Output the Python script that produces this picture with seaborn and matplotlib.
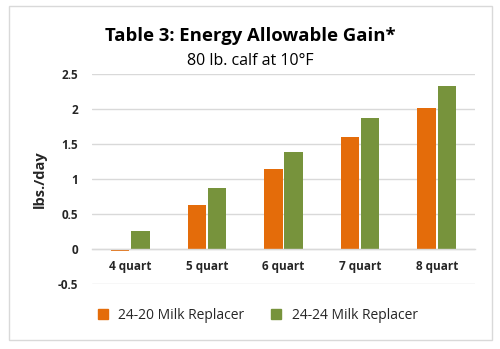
import matplotlib
matplotlib.use("Agg")
import matplotlib.pyplot as plt
import seaborn as sns
import pandas as pd
from matplotlib.patches import Rectangle
from matplotlib.lines import Line2D

categories = ["4 quart", "5 quart", "6 quart", "7 quart", "8 quart"]
series_names = ["24-20 Milk Replacer", "24-24 Milk Replacer"]
milk_24_20 = [-0.03, 0.63, 1.14, 1.60, 2.02]
milk_24_24 = [0.26, 0.87, 1.39, 1.87, 2.33]
y_ticks = [-0.5, 0, 0.5, 1, 1.5, 2, 2.5]
y_tick_labels = ["-0.5", "0", "0.5", "1", "1.5", "2", "2.5"]

colors = ["#E46C0A", "#77933C"]

df = pd.DataFrame({
    "category": categories * 2,
    "value": milk_24_20 + milk_24_24,
    "series": [series_names[0]] * len(categories) + [series_names[1]] * len(categories),
})

sns.set_style("white")
plt.rcParams["font.family"] = ["Open Sans", "DejaVu Sans"]

fig = plt.figure(figsize=(5.0, 3.49), dpi=100)
ax = fig.add_axes([0.184, 0.1862, 0.766, 0.602])

sns.barplot(data=df, x="category", y="value", hue="series", palette=colors,
            order=categories, hue_order=series_names, width=0.53, gap=0.09,
            ax=ax, legend=False, saturation=1, linewidth=0)

ax.set_ylim(-0.5, 2.5)
ax.set_xlim(-0.5, 4.5)
ax.set_yticks(y_ticks)
ax.set_yticklabels(y_tick_labels)
ax.yaxis.grid(True, color="#D9D9D9", linewidth=1)
ax.set_axisbelow(True)
for s in ["top", "right", "left"]:
    ax.spines[s].set_visible(False)
ax.spines["bottom"].set_position(("data", 0))
ax.spines["bottom"].set_color("#D9D9D9")
ax.spines["bottom"].set_linewidth(1)
ax.tick_params(axis="x", length=0, pad=8, labelsize=8.5, labelcolor="#262626")
ax.tick_params(axis="y", length=0, pad=10, labelsize=8.5, labelcolor="#262626")
ax.set_xlabel("")
ax.set_ylabel("lbs./day", fontweight="bold", fontsize=10.5, color="#262626", labelpad=8)

fig.text(0.5, 0.897, "Table 3: Energy Allowable Gain*", ha="center", va="center",
         fontsize=13.3, fontweight="bold", color="black")
fig.text(0.5, 0.826, "80 lb. calf at 10°F", ha="center", va="center",
         fontsize=11.5, color="black")

handles = [Line2D([], [], marker="s", linestyle="none", markersize=7.5,
                  markerfacecolor=c, markeredgecolor=c) for c in colors]
fig.legend(handles, series_names, loc="center", bbox_to_anchor=(0.507, 0.095),
           ncol=2, frameon=False, fontsize=10, handletextpad=0.1,
           columnspacing=1.3, labelcolor="#262626")

fig.patches.append(Rectangle((0.018, 0.026), 0.966, 0.957, transform=fig.transFigure,
                             fill=False, edgecolor="#D9D9D9", linewidth=1))

fig.canvas.draw()
for lab in ax.get_xticklabels() + ax.get_yticklabels():
    lab.set_fontweight("bold")

fig.savefig("out.png", dpi=100)
